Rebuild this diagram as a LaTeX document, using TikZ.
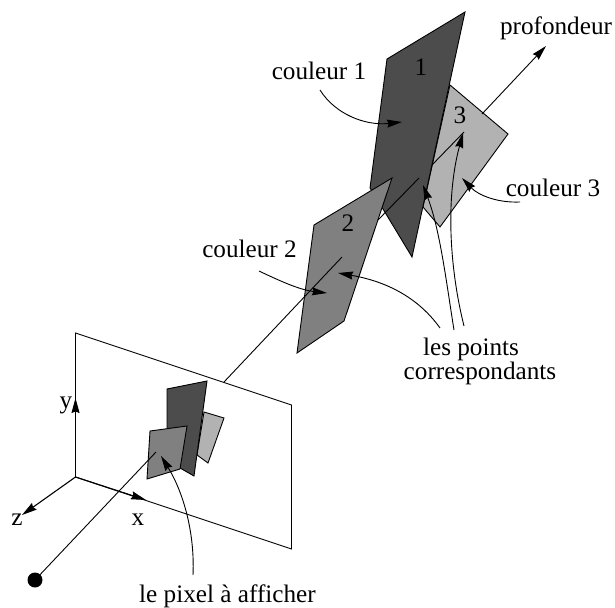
\documentclass[tikz,border=0pt]{standalone}
\usepackage{fontspec}
\setmainfont{Liberation Serif}
\usetikzlibrary{arrows.meta}
\definecolor{cA}{gray}{0.3}
\definecolor{cB}{gray}{0.5}
\definecolor{cC}{gray}{0.7}
\tikzset{
  plane/.style={draw=black,line width=0.9pt,line join=miter},
  ray/.style={draw=black,line width=0.9pt},
  lead/.style={draw=black,line width=0.9pt,-{Stealth[length=15pt,width=8pt,inset=1.5pt]}},
  lbl/.style={font=\fontsize{25.2}{24}\selectfont,inner sep=0pt,text=black,anchor=base},
  axis/.style={draw=black,line width=1.1pt,-{Stealth[length=15pt,width=8pt,inset=1.5pt]}},
}
\begin{document}
\begin{tikzpicture}[x=1pt,y=-1pt]
\useasboundingbox (0,0) rectangle (615,607);
% screen
\draw[plane] (75.5,333) -- (291.5,405) -- (291.5,549) -- (75.5,477) -- cycle;
\coordinate (eye) at (35,580);
\coordinate (tip) at (546,46);
% plane 3
\draw[plane,fill=cC] (450,85) -- (508,134) -- (440,227) -- (423,207) -- cycle;
\draw[ray,-{Stealth[length=15pt,width=8pt,inset=1.5pt]}] (482,114) -- (tip);
\draw[ray] (432,165) -- (464,132);
% plane 1
\draw[plane,fill=cA] (387,59) -- (465,12) -- (412,257) -- (383,209) -- (370,188) -- cycle;
% plane 2
\draw[plane,fill=cB] (314,225) -- (392,178) -- (344,321) -- (297,353) -- cycle;
% ray parts
\draw[ray] (378,220) -- (419,178);
\draw[ray] (224,382) -- (342,257);
% small projected planes
\draw[plane,fill=cC] (204,412) -- (224,418) -- (208,463) -- (197,455) -- cycle;
\draw[plane,fill=cA] (167,389) -- (207,381) -- (194,476) -- (180,468) -- (167,450) -- cycle;
\draw[plane,fill=cB] (150,431) -- (187,426) -- (180,469) -- (147,479) -- cycle;
% axes
\draw[axis] (75.5,477) -- (75.5,398);
\draw[axis] (75.5,477) -- (146,500);
\draw[axis] (75.5,477) -- (22,515);
% near ray
\node[circle,fill=black,minimum size=15pt,inner sep=0pt] (eyeN) at (eye) {};
\draw[ray] (eye) -- (156,452);
% leaders
\draw[lead] (320,90) .. controls (335,114) and (365,126) .. (402,122);
\draw[lead] (259,271) .. controls (280,281) and (300,290) .. (327,293);
\draw[lead] (440,328) .. controls (420,300) and (390,282) .. (338,273);
\draw[lead] (454,330) .. controls (446,280) and (440,230) .. (423,185);
\draw[lead] (464,326) .. controls (450,270) and (445,200) .. (463,133);
\draw[lead] (520,202) .. controls (497,203) and (478,195) .. (462,178);
\draw[lead] (193,575) .. controls (195,530) and (182,490) .. (161,456);
% labels
\node[lbl] (l1) at (421,76) {1};
\node[lbl] (l2) at (348,231) {2};
\node[lbl] (l3) at (460,124) {3};
\node[lbl] at (556,35) {profondeur};
\node[lbl] at (319,80) {couleur 1};
\node[lbl] at (249.5,257) {couleur 2};
\node[lbl] at (553,196) {couleur 3};
\node[lbl] at (471,355) {les points};
\node[lbl] at (480,379) {correspondants};
\node[lbl] at (227.5,602) {le pixel à afficher};
\node[lbl] at (66,408) {y};
\node[lbl] at (138,525) {x};
\node[lbl] at (17,525) {z};
\end{tikzpicture}
\end{document}
